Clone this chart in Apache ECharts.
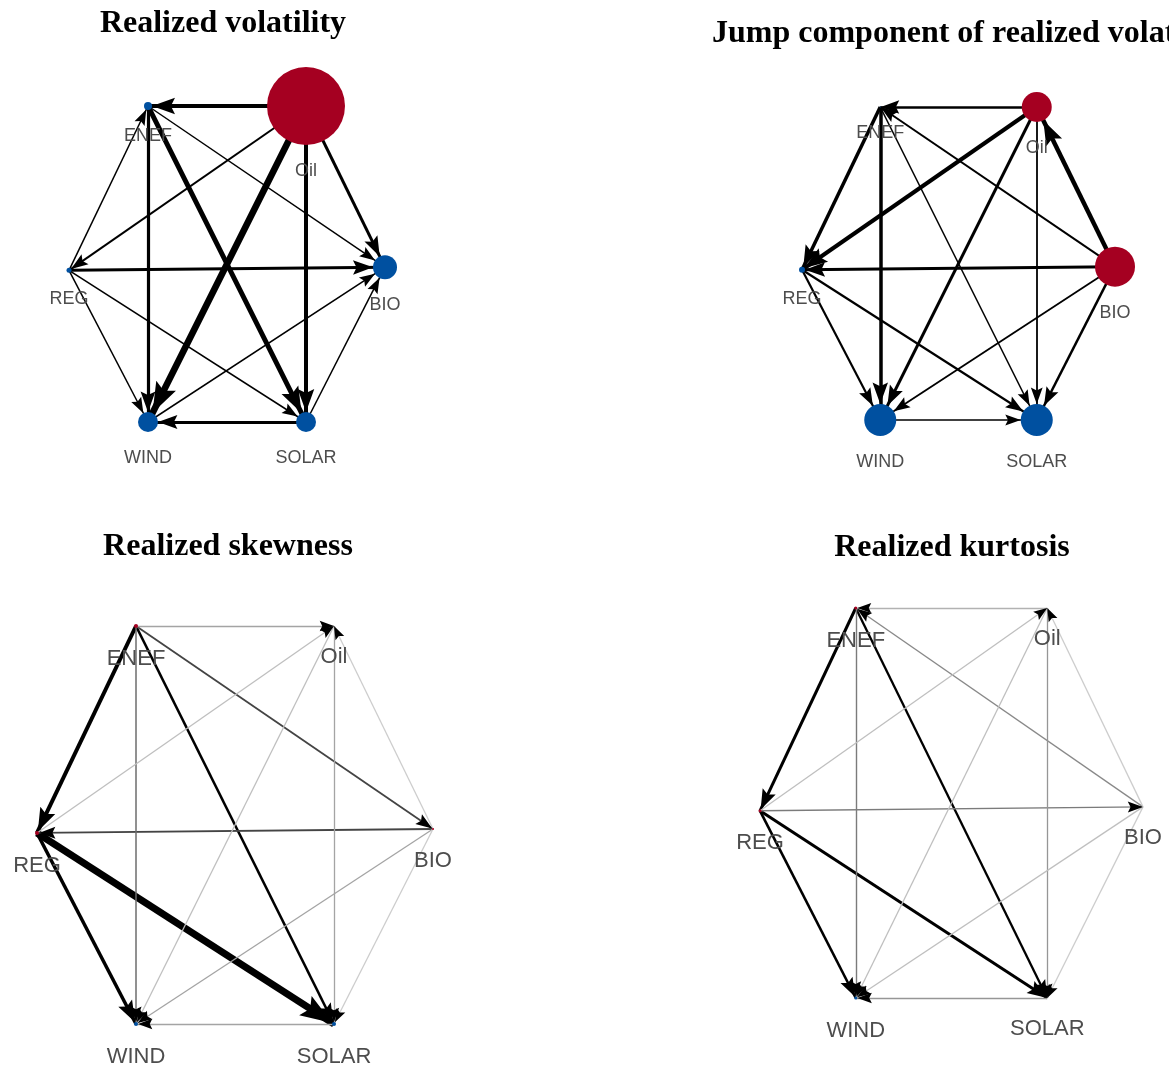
<!DOCTYPE html>
<html><head><meta charset="utf-8">
<script src="https://cdn.jsdelivr.net/npm/echarts@6/dist/echarts.min.js"></script>
<style>html,body{margin:0;padding:0;background:#fff}#c{width:1169px;height:1072px}</style>
</head><body><div id="c"></div>
<script>
// ---------- DATA ----------
const NODES = ['ENEF', 'Oil', 'REG', 'BIO', 'WIND', 'SOLAR'];
// hexagon layout coordinates (graph space)
const NODE_X = [-0.5, 0.5, -1, 1, -0.5, 0.5];
const NODE_Y = [1, 1, -0.04, -0.02, -1, -1];

const TITLES = ['Realized volatility', 'Jump component of realized volatility', 'Realized skewness', 'Realized kurtosis'];

// node magnitude (diameter) and role: 1 = net transmitter, -1 = net receiver
const RV_NODE_SIZE = [8, 78, 5, 24, 20, 20];
const RV_NODE_ROLE = [-1, 1, -1, -1, -1, -1];
const JUMP_NODE_SIZE = [1, 30, 6, 40, 32, 32];
const JUMP_NODE_ROLE = [-1, 1, -1, 1, -1, -1];
const SKEW_NODE_SIZE = [4, 0, 4, 2, 4, 4];
const SKEW_NODE_ROLE = [1, -1, 1, 1, -1, -1];
const KURT_NODE_SIZE = [3, 0, 3, 0, 3, 0];
const KURT_NODE_ROLE = [1, -1, 1, -1, -1, -1];

// directed spillover edges: [source, target, strength]
const RV_EDGES = [
  ['Oil', 'ENEF', 4], ['Oil', 'REG', 2], ['Oil', 'WIND', 6.5], ['Oil', 'SOLAR', 4], ['Oil', 'BIO', 3],
  ['ENEF', 'WIND', 3.2], ['ENEF', 'SOLAR', 5], ['ENEF', 'BIO', 1.5], ['REG', 'ENEF', 1.5],
  ['REG', 'BIO', 3], ['REG', 'WIND', 1.5], ['REG', 'SOLAR', 1.5],
  ['SOLAR', 'WIND', 2.8], ['SOLAR', 'BIO', 1.5], ['WIND', 'BIO', 1.5]
];
const JUMP_EDGES = [
  ['Oil', 'ENEF', 2.5], ['Oil', 'REG', 4], ['Oil', 'WIND', 3], ['Oil', 'SOLAR', 1.8],
  ['BIO', 'Oil', 4.5], ['BIO', 'ENEF', 2], ['BIO', 'REG', 3], ['BIO', 'WIND', 1.8], ['BIO', 'SOLAR', 2.5],
  ['ENEF', 'REG', 3.5], ['ENEF', 'WIND', 3.5], ['ENEF', 'SOLAR', 1.5],
  ['REG', 'WIND', 2.2], ['REG', 'SOLAR', 2.2], ['WIND', 'SOLAR', 1.5]
];
const SKEW_EDGES = [
  ['ENEF', 'REG', 4], ['REG', 'SOLAR', 7], ['REG', 'WIND', 3.5], ['ENEF', 'SOLAR', 2.6],
  ['ENEF', 'BIO', 1.8], ['BIO', 'REG', 1.8], ['ENEF', 'WIND', 1.5],
  ['ENEF', 'Oil', 1.1], ['Oil', 'SOLAR', 1.1], ['SOLAR', 'WIND', 1.1], ['BIO', 'WIND', 1.1],
  ['REG', 'Oil', 0.9], ['Oil', 'WIND', 0.9], ['BIO', 'Oil', 0.8], ['BIO', 'SOLAR', 0.8]
];
const KURT_EDGES = [
  ['ENEF', 'REG', 3], ['REG', 'SOLAR', 3], ['REG', 'WIND', 2.6], ['ENEF', 'SOLAR', 2.3],
  ['ENEF', 'WIND', 1.4], ['BIO', 'ENEF', 1.3], ['REG', 'BIO', 1.4],
  ['Oil', 'SOLAR', 1.2], ['SOLAR', 'WIND', 1.2], ['Oil', 'ENEF', 1.0],
  ['REG', 'Oil', 0.9], ['Oil', 'WIND', 0.9], ['BIO', 'WIND', 0.9], ['BIO', 'Oil', 0.8], ['BIO', 'SOLAR', 0.8]
];

// ---------- LAYOUT / STYLE ----------
const LAYOUT = [
  { grid: { left: 69, top: 106, width: 316, height: 316 }, title: { x: 223, y: 8, align: 'center' }, labelSize: 18, labelDist: 17, shaded: false },
  { grid: { left: 802, top: 107, width: 313, height: 313 }, title: { x: 712, y: 18, align: 'left' }, labelSize: 18, labelDist: 17, shaded: false },
  { grid: { left: 37, top: 626, width: 396, height: 398 }, title: { x: 228, y: 531, align: 'center' }, labelSize: 22, labelDist: 20, shaded: true },
  { grid: { left: 760, top: 608, width: 383, height: 390 }, title: { x: 952, y: 532, align: 'center' }, labelSize: 22, labelDist: 20, shaded: true }
];
const RED = '#a50021', BLUE = '#0050a0';
// arrow with tip at the centre of its box (dummy point extends the box behind the tip)
const ARROW = 'path://M0,0L5,14L0,11.5L-5,14Z M0,-14L0.01,-14';

function edgeWidth(w, shaded) { return shaded ? Math.max(w, 1.3) : w; }
function edgeColor(w, shaded) {
  if (!shaded) return '#000';
  const t = Math.min(1, Math.max(0, (2.3 - w) / 1.5));
  const g = Math.round(t * 205);
  return 'rgb(' + g + ',' + g + ',' + g + ')';
}
function arrowSize(w) { const len = 11 + 3 * w; return [len * 0.72, len * 2]; }

const PANELS = [
  { title: TITLES[0], size: RV_NODE_SIZE, role: RV_NODE_ROLE, edges: RV_EDGES },
  { title: TITLES[1], size: JUMP_NODE_SIZE, role: JUMP_NODE_ROLE, edges: JUMP_EDGES },
  { title: TITLES[2], size: SKEW_NODE_SIZE, role: SKEW_NODE_ROLE, edges: SKEW_EDGES },
  { title: TITLES[3], size: KURT_NODE_SIZE, role: KURT_NODE_ROLE, edges: KURT_EDGES }
];

const grid = [], xAxis = [], yAxis = [], series = [], graphic = [];
PANELS.forEach(function (p, i) {
  const L = LAYOUT[i];
  grid.push(L.grid);
  xAxis.push({ gridIndex: i, type: 'value', min: -1, max: 1, show: false });
  yAxis.push({ gridIndex: i, type: 'value', min: -1, max: 1, show: false });
  const base = { type: 'graph', layout: 'none', coordinateSystem: 'cartesian2d', xAxisIndex: i, yAxisIndex: i, silent: true, animation: false };
  // lines
  series.push(Object.assign({}, base, {
    symbolSize: 0, label: { show: false }, itemStyle: { opacity: 0 },
    edgeSymbol: ['none', 'none'],
    data: NODES.map(function (n, k) { return { name: n, value: [NODE_X[k], NODE_Y[k]] }; }),
    links: p.edges.map(function (e) {
      return { source: e[0], target: e[1], lineStyle: { width: edgeWidth(e[2], L.shaded), color: edgeColor(e[2], L.shaded), opacity: 1, curveness: 0 } };
    })
  }));
  // arrowheads
  series.push(Object.assign({}, base, {
    label: { show: false }, itemStyle: { opacity: 0 },
    edgeSymbol: ['none', ARROW],
    data: NODES.map(function (n, k) { return { name: n, value: [NODE_X[k], NODE_Y[k]], symbolSize: p.size[k] }; }),
    links: p.edges.map(function (e) {
      return { source: e[0], target: e[1], symbolSize: [0, arrowSize(e[2])], lineStyle: { width: 0, color: '#000', opacity: 1, curveness: 0 } };
    })
  }));
  // nodes + labels
  series.push(Object.assign({}, base, {
    data: NODES.map(function (n, k) {
      return { name: n, value: [NODE_X[k], NODE_Y[k]], symbolSize: p.size[k], itemStyle: { color: p.role[k] > 0 ? RED : BLUE, opacity: 1 } };
    }),
    links: [],
    label: { show: true, position: 'bottom', distance: L.labelDist, color: '#4d4d4d', fontSize: L.labelSize, fontFamily: 'Liberation Sans', formatter: '{b}' }
  }));
  graphic.push({
    type: 'text', x: L.title.x, y: L.title.y, silent: true,
    style: { text: p.title, align: L.title.align, verticalAlign: 'top', font: 'bold 32px "Liberation Serif"', fill: '#000' }
  });
});

const chart = echarts.init(document.getElementById('c'), null, { renderer: 'canvas', width: 1169, height: 1072 });
chart.setOption({ backgroundColor: '#fff', animation: false, grid: grid, xAxis: xAxis, yAxis: yAxis, series: series, graphic: graphic });
</script>
</body></html>
